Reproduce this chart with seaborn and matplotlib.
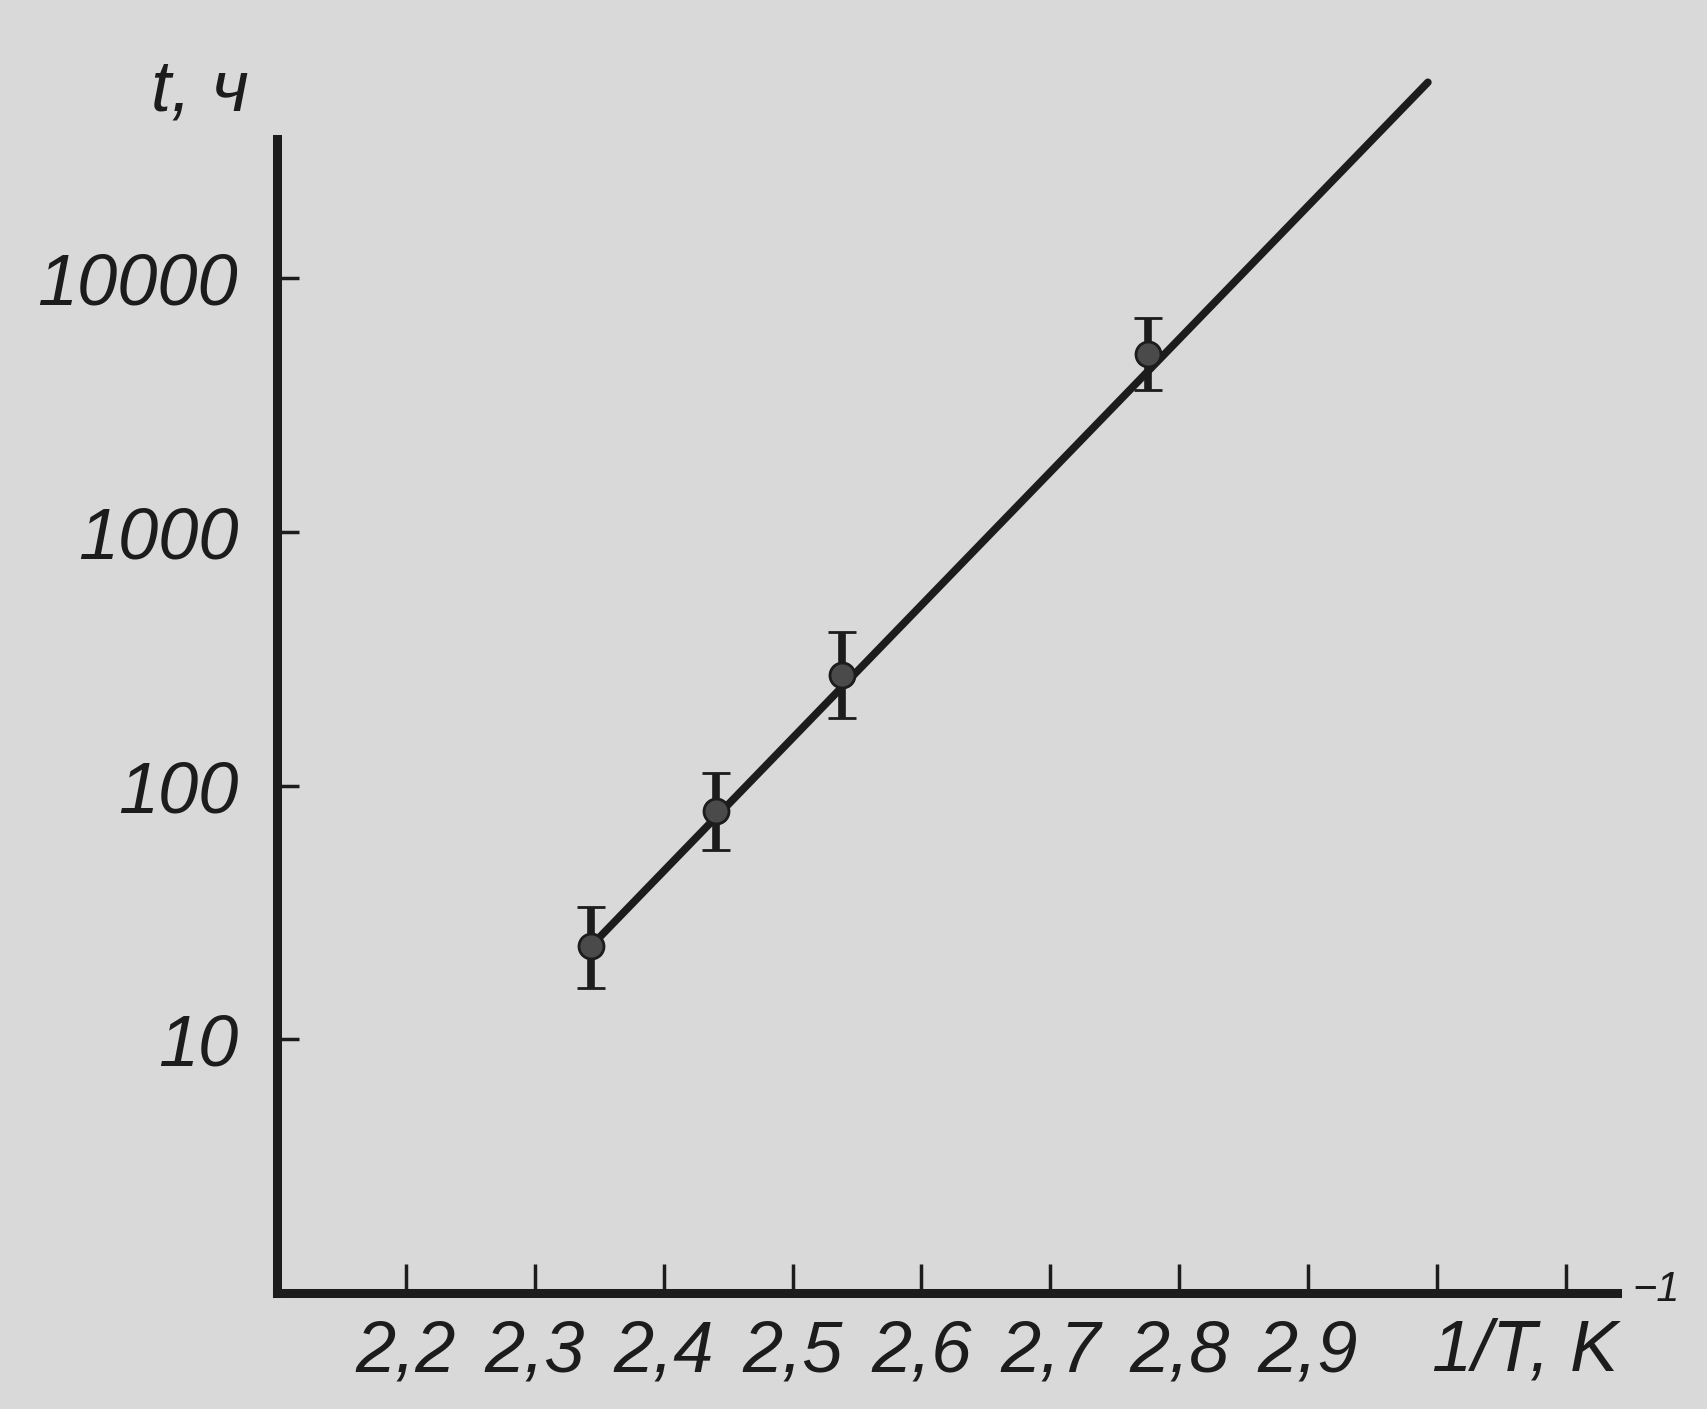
import numpy as np
import pandas as pd
import seaborn as sns
from matplotlib import pyplot as plt
from matplotlib.ticker import NullLocator

# measured points (1/T, 10^-3 K^-1) and time to failure, h
inv_t = [2.344, 2.441, 2.538, 2.776]
hours = [23.4, 79.2, 272.0, 5010.0]
hours_lo = [16.0, 55.6, 184.0, 3610.0]
hours_hi = [33.1, 112.0, 402.0, 6950.0]

# fitted straight line
fit_x = [2.344, 2.993]
fit_y = [23.4, 59100.0]

x_ticks = [2.2, 2.3, 2.4, 2.5, 2.6, 2.7, 2.8, 2.9, 3.0, 3.1]
x_labels = ['2,2', '2,3', '2,4', '2,5', '2,6', '2,7', '2,8', '2,9', '', '']
y_ticks = [10, 100, 1000, 10000]
y_labels = ['10', '100', '1000', '10000']

paper = '#d9d9d9'
ink = '#1c1c1c'
fam = ['Liberation Sans', 'DejaVu Sans']
fs = 52

sns.set_theme(style='ticks')
plt.rcParams['font.family'] = fam
plt.rcParams['font.style'] = 'italic'

fig = plt.figure(figsize=(17.08, 14.09), dpi=100, facecolor=paper)
ax = fig.add_axes([0.1622, 0.0823, 0.7998, 0.8644])
ax.set_facecolor(paper)

df = pd.DataFrame({'x': fit_x, 'y': fit_y})
sns.lineplot(data=df, x='x', y='y', ax=ax, color=ink, lw=5.5, solid_capstyle='round')

err = [np.array(hours) - np.array(hours_lo), np.array(hours_hi) - np.array(hours)]
ax.errorbar(inv_t, hours, yerr=err, fmt='o', ms=18, mfc='#4a4a4a', mec=ink, mew=2,
            ecolor=ink, elinewidth=5.5, capsize=10, capthick=4.5, zorder=3)

ax.set_yscale('log')
ax.set_xlim(2.1, 3.16)
ax.set_ylim(1, 10 ** 4.8)
ax.yaxis.set_minor_locator(NullLocator())
ax.set_xticks(x_ticks)
ax.set_xticklabels(x_labels)
ax.set_yticks(y_ticks)
ax.set_yticklabels(y_labels)
ax.set_xlabel('')
ax.set_ylabel('')

sns.despine(ax=ax)
for s in ['left', 'bottom']:
    ax.spines[s].set_linewidth(6.5)
    ax.spines[s].set_color(ink)
ax.spines['left'].set_bounds(1, 10 ** 4.547)
ax.spines['bottom'].set_bounds(2.1, 3.14)

ax.tick_params(axis='y', direction='in', length=16, width=2.5, color=ink,
               pad=28, labelsize=fs, labelcolor=ink)
ax.tick_params(axis='x', direction='in', length=21, width=2.5, color=ink,
               pad=18, labelsize=fs, labelcolor=ink)
for lab in ax.get_xticklabels() + ax.get_yticklabels():
    lab.set_fontstyle('italic')
    lab.set_family(fam)

fig.text(200 / 1708, 1 - 92 / 1409, 't, ч', ha='center', va='center',
         fontsize=fs, style='italic', color=ink, family=fam)
fig.text(1432 / 1708, 1 - 1318 / 1409, '1/T, K', ha='left', va='top',
         fontsize=fs, style='italic', color=ink, family=fam)
fig.text(1632 / 1708, 1 - 1270 / 1409, '−1', ha='left', va='top',
         fontsize=30, style='italic', color=ink, family=fam)

fig.savefig('out.png', dpi=100, facecolor=paper)
